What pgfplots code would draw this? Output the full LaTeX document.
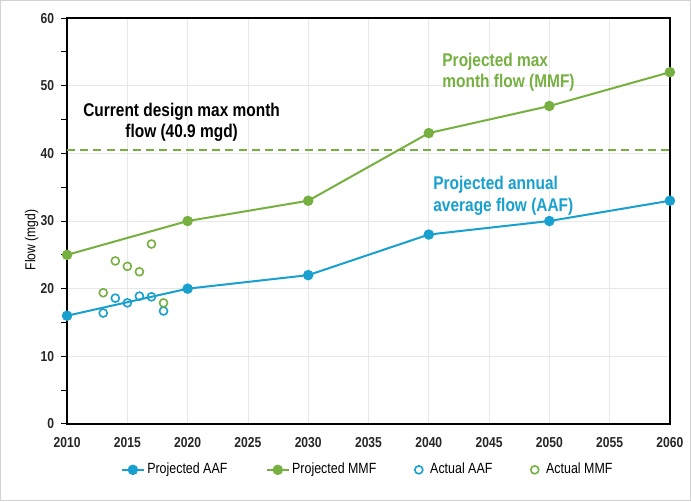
\documentclass[border=0pt]{standalone}
\usepackage{pgfplots}
\pgfplotsset{compat=1.18}
\usepackage{fontspec}
\setmainfont{Liberation Sans}[FakeStretch=0.84]
\definecolor{cblue}{RGB}{24,160,207}
\definecolor{cgreen}{RGB}{118,176,65}
\pgfplotsset{shortline/.style={legend image code/.code={\draw[mark repeat=2,mark phase=2,##1] plot coordinates {(0pt,0pt) (5.5pt,0pt) (11pt,0pt)};}}}
\begin{document}
\begin{tikzpicture}
\draw[gray!35, line width=0.6pt] (-33.25pt,-38.25pt) rectangle (311.75pt,211.75pt);
\begin{axis}[
  scale only axis,
  width=301.5pt, height=203pt,
  xmin=2010, xmax=2060, ymin=0, ymax=60,
  xtick distance=5, ytick distance=10,
  minor y tick num=1,
  ytick pos=left, xtick pos=bottom,
  grid=major,
  major grid style={gray!18, line width=0.4pt},
  axis line style={black, line width=0.8pt},
  tick align=outside,
  xtick style={draw=none},
  ytick style={black, line width=0.5pt},
  major tick length=3pt, minor tick length=3pt,
  minor y tick style={black, line width=0.5pt},
  /pgf/number format/assume math mode=true,
  /pgf/number format/1000 sep={},
  tick label style={font=\fontsize{7.2}{8}\selectfont\bfseries, text=black!85},
  ylabel={Flow (mgd)},
  ylabel style={font=\fontsize{7.2}{8}\selectfont, at={(-0.036,0.453)}},
  legend style={draw=none, fill=none, at={(0.499,-0.113)}, anchor=center,
    font=\fontsize{7.4}{8}\selectfont, legend columns=4,
    /tikz/every odd column/.append style={column sep=0pt},
    /tikz/every even column/.append style={column sep=18pt},
    nodes={inner xsep=1.2pt}},
  legend cell align=left,
  clip=false,
]
\addplot[cblue, line width=1pt, mark=*, mark size=2.1pt, shortline] coordinates {
 (2010,16) (2020,20) (2030,22) (2040,28) (2050,30) (2060,33)};
\addlegendentry{Projected AAF}
\addplot[cgreen, line width=1pt, mark=*, mark size=2.1pt, shortline] coordinates {
 (2010,25) (2020,30) (2030,33) (2040,43) (2050,47) (2060,52)};
\addlegendentry{Projected MMF}
\addplot[cblue, only marks, mark=o, mark size=2pt, line width=0.8pt] coordinates {
 (2013,16.4) (2014,18.6) (2015,17.9) (2016,18.9) (2017,18.8) (2018,16.7)};
\addlegendentry{\hspace{2.5pt}Actual AAF}
\addplot[cgreen, only marks, mark=o, mark size=2pt, line width=0.8pt] coordinates {
 (2013,19.4) (2014,24.1) (2015,23.3) (2016,22.5) (2017,26.6) (2018,17.9)};
\addlegendentry{\hspace{2.5pt}Actual MMF}
\addplot[draw=cgreen, line width=0.9pt, dash pattern=on 4pt off 2.6pt, forget plot] coordinates {(2010,40.5) (2060,40.5)};
\node[align=center, font=\fontsize{9.2}{10.5}\selectfont\bfseries, text=black] at (axis cs:2019.5,44.6) {Current design max month\\flow (40.9 mgd)};
\node[align=left, anchor=west, inner sep=0pt, font=\fontsize{9.2}{10.3}\selectfont\bfseries, text=cgreen] at (axis cs:2041.1,52.0) {Projected max\\month flow (MMF)};
\node[align=left, anchor=west, inner sep=0pt, font=\fontsize{9.2}{10.8}\selectfont\bfseries, text=cblue] at (axis cs:2040.35,33.7) {Projected annual\\average flow (AAF)};
\end{axis}
\end{tikzpicture}
\end{document}
